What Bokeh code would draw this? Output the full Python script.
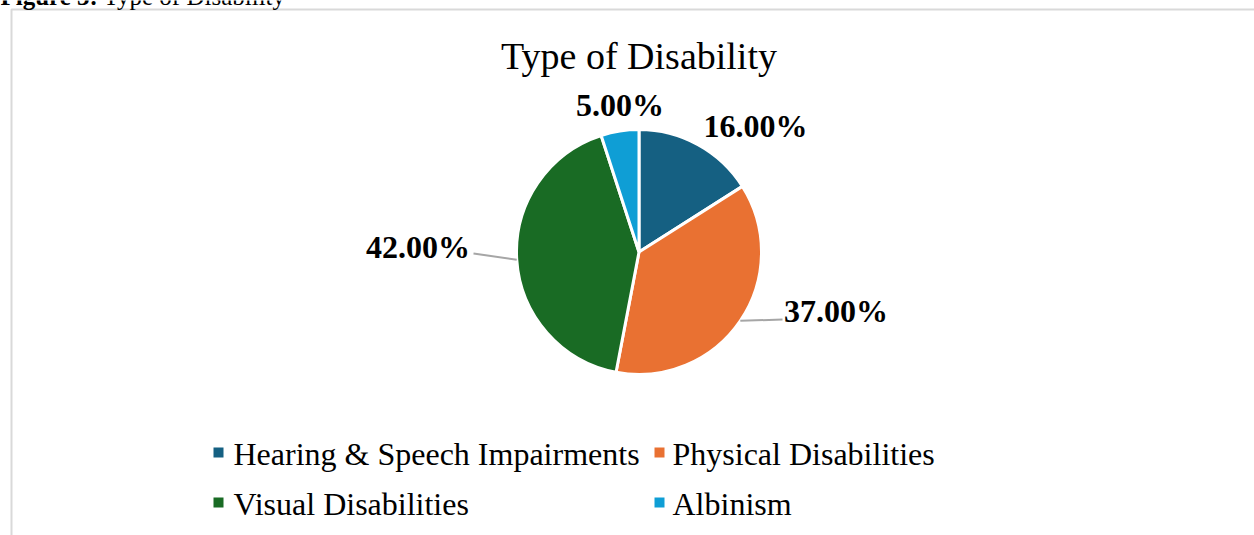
import math
from bokeh.plotting import figure
from bokeh.models import Range1d, ColumnDataSource
from bokeh.core.properties import value
from bokeh.embed import file_html
from bokeh.resources import INLINE

# ---- data ----
categories = ["Hearing & Speech Impairments", "Physical Disabilities", "Visual Disabilities", "Albinism"]
shares = [16.0, 37.0, 42.0, 5.0]
colors = ["#156082", "#E97132", "#196B24", "#0F9ED5"]
chart_title = "Type of Disability"
caption_bold = "Figure 3:"
caption_rest = "Type of Disability"

# ---- layout (screen px, y measured from top) ----
W, H = 1254, 535
CX, CY, R = 638.5, 251.5, 122.5
TXT_SHIFT = 9  # renderer places alphabetic baseline slightly lower
label_pos = [(755, 134), (835.5, 319), (417.5, 255), (619.5, 113)]  # text centre x, baseline y
leader_end = [None, (782, 319), (473, 253), None]
legend_sq = [(218, 452), (659, 452), (218, 502), (659, 502)]
legend_txt = [(233, 462), (672, 462), (233, 512), (672, 512)]

SERIF = "Liberation Serif"

def fy(y):
    return H - y

def ty(y):
    return H - y + TXT_SHIFT

p = figure(width=W, height=H, x_range=Range1d(0, W), y_range=Range1d(0, H),
           output_backend="svg", toolbar_location=None, min_border=0,
           x_axis_type=None, y_axis_type=None, outline_line_color=None,
           background_fill_color="white", border_fill_color="white")
p.grid.visible = False

# frame
p.line(x=[11, 11, W + 5], y=[-5, fy(9), fy(9)], line_color="#D9D9D9", line_width=2)

# caption (cut off at the top, as in the source)
p.text(x=[0], y=[ty(5)], text=[caption_bold], text_font=value(SERIF), text_font_size="25px",
       text_font_style="bold", text_baseline="alphabetic", text_color="black")
p.text(x=[103], y=[ty(5)], text=[caption_rest], text_font=value(SERIF), text_font_size="25px",
       text_baseline="alphabetic", text_color="black")

# title
p.text(x=[CX], y=[ty(64)], text=[chart_title], text_font=value(SERIF), text_font_size="38px",
       text_align="center", text_baseline="alphabetic", text_color="black")

# pie
total = sum(shares)
starts, ends, mids = [], [], []
cum = 0.0
for s in shares:
    a0 = math.pi / 2 - 2 * math.pi * cum / total
    cum += s
    a1 = math.pi / 2 - 2 * math.pi * cum / total
    starts.append(a0)
    ends.append(a1)
    mids.append((a0 + a1) / 2)
src = ColumnDataSource(dict(start=starts, end=ends, color=colors, cat=categories, share=shares))
p.wedge(x=CX, y=fy(CY), radius=R, start_angle="start", end_angle="end", direction="clock",
        fill_color="color", line_color="white", line_width=3, source=src)

# leader lines
for i, e in enumerate(leader_end):
    if e is None:
        continue
    sx = CX + R * math.cos(mids[i])
    sy = fy(CY) + R * math.sin(mids[i])
    p.line(x=[sx, e[0]], y=[sy, fy(e[1])], line_color="#A6A6A6", line_width=2)

# data labels
p.text(x=[lp[0] for lp in label_pos], y=[ty(lp[1]) for lp in label_pos],
       text=["%.2f%%" % s for s in shares], text_font=value(SERIF), text_font_size="32px",
       text_font_style="bold", text_align="center", text_baseline="alphabetic", text_color="black")

# legend
p.scatter(x=[q[0] for q in legend_sq], y=[fy(q[1]) for q in legend_sq], marker="square",
          size=10, fill_color=colors, line_color=None)
p.text(x=[t[0] for t in legend_txt], y=[ty(t[1]) for t in legend_txt], text=categories,
       text_font=value(SERIF), text_font_size="32px", text_baseline="alphabetic", text_color="black")

open("out.html", "w").write(file_html(p, INLINE))
